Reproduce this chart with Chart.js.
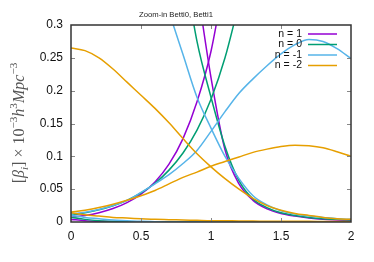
<!DOCTYPE html>
<html>
<head>
<meta charset="utf-8">
<script src="https://cdn.jsdelivr.net/npm/chart.js@4.4.0/dist/chart.umd.min.js"></script>
<style>
  html, body { margin: 0; padding: 0; background: #fff; }
  #wrap { width: 374px; height: 262px; }
</style>
</head>
<body>
<div id="wrap"><canvas id="c"></canvas></div>
<script>
// sample positions along x (0 .. 2, step 0.1)
const xs = [0, 0.1, 0.2, 0.3, 0.4, 0.5, 0.6, 0.7, 0.8, 0.9, 1.0,
            1.1, 1.2, 1.3, 1.4, 1.5, 1.6, 1.7, 1.8, 1.9, 2.0];

// n = 1
const rise1 = [0.007, 0.0099, 0.0142, 0.0205, 0.0295, 0.0425, 0.061, 0.088, 0.127, 0.183, 0.26, 0.375];
const fall1 = [null, null, null, null, null, null, null, null, null,
               0.36, 0.22, 0.11, 0.058, 0.033, 0.020, 0.013, 0.009, 0.006, 0.004, 0.003, 0.002];
const low1  = [0.004, 0.002, 0.001, 0.0005, 0, 0, 0, 0, 0, 0, 0, 0, 0, 0, 0, 0, 0, 0, 0, 0, 0];

// n = 0
const rise0 = [0.0104, 0.0139, 0.0186, 0.0248, 0.033, 0.0442, 0.059, 0.079, 0.105, 0.14, 0.187, 0.25, 0.333];
const fall0 = [null, null, null, null, null, null, null, null,
               0.40, 0.275, 0.19, 0.115, 0.063, 0.035, 0.022, 0.014, 0.010, 0.007, 0.005, 0.004, 0.003];
const low0  = [0.007, 0.004, 0.002, 0.001, 0.0005, 0, 0, 0, 0, 0, 0, 0, 0, 0, 0, 0, 0, 0, 0, 0, 0];

// n = -1
const riseM1 = [0.012, 0.015, 0.019, 0.025, 0.033, 0.045, 0.058, 0.072, 0.089, 0.109, 0.138,
                0.168, 0.196, 0.218, 0.238, 0.256, 0.270, 0.278, 0.275, 0.264, 0.249];
const fallM1 = [null, null, null, null, null, null, null,
                0.32, 0.255, 0.19, 0.143, 0.1, 0.066, 0.04, 0.026, 0.017, 0.012, 0.009, 0.007, 0.005, 0.004];
const lowM1  = [0.010, 0.007, 0.005, 0.003, 0.002, 0.001, 0.0005, 0, 0, 0, 0, 0, 0, 0, 0, 0, 0, 0, 0, 0, 0];

// n = -2
const riseM2 = [0.015, 0.018, 0.022, 0.027, 0.033, 0.040, 0.048, 0.058, 0.068, 0.076, 0.085,
                0.092, 0.099, 0.106, 0.111, 0.115, 0.117, 0.116, 0.113, 0.107, 0.100];
const fallM2 = [0.265, 0.261, 0.250, 0.233, 0.213, 0.193, 0.173, 0.151, 0.127, 0.104, 0.084,
                0.066, 0.050, 0.036, 0.025, 0.018, 0.013, 0.010, 0.007, 0.005, 0.004];
const lowM2  = [0.014, 0.011, 0.009, 0.007, 0.006, 0.005, 0.004, 0.0035, 0.003, 0.0025, 0.002,
                0.002, 0.0015, 0.0015, 0.001, 0.001, 0.001, 0.001, 0.0008, 0.0007, 0.0005];

const legendLabels = ['n = 1', 'n = 0', 'n = -1', 'n = -2'];
const colors = ['#9400d3', '#009e73', '#56b4e9', '#e69f00'];
const curves = [[rise1, fall1, low1], [rise0, fall0, low0], [riseM1, fallM1, lowM1], [riseM2, fallM2, lowM2]];
const xTicks = [0, 0.5, 1, 1.5, 2];
const yTicks = [0, 0.05, 0.1, 0.15, 0.2, 0.25, 0.3];

const pts = (ys) => xs.map((x, i) => ys[i] == null ? null : {x, y: ys[i]}).filter(p => p);
const fmt = (v) => String(+v.toFixed(2));

// last series drawn on top -> push in reverse (chart.js draws index 0 last)
const datasets = [];
for (let s = curves.length - 1; s >= 0; s--) {
  for (const ys of curves[s]) {
    datasets.push({
      data: pts(ys),
      borderColor: colors[s],
      borderWidth: 1.5,
      pointRadius: 0,
      fill: false,
      cubicInterpolationMode: 'monotone'
    });
  }
}

const decor = {
  id: 'decor',
  afterDatasetsDraw(chart) {
    const {ctx, chartArea: a, scales: {x, y}} = chart;
    ctx.save();
    // inward ticks, mirrored
    ctx.strokeStyle = '#888';
    ctx.lineWidth = 1;
    ctx.beginPath();
    for (const v of xTicks.slice(1, -1)) {
      const px = Math.round(x.getPixelForValue(v)) + 0.5;
      ctx.moveTo(px, a.bottom); ctx.lineTo(px, a.bottom - 4);
      ctx.moveTo(px, a.top); ctx.lineTo(px, a.top + 4);
    }
    for (const v of yTicks.slice(1, -1)) {
      const py = Math.round(y.getPixelForValue(v)) + 0.5;
      ctx.moveTo(a.left, py); ctx.lineTo(a.left + 4, py);
      ctx.moveTo(a.right, py); ctx.lineTo(a.right - 4, py);
    }
    ctx.stroke();
    // frame
    ctx.strokeStyle = '#333';
    ctx.lineWidth = 1.5;
    ctx.strokeRect(a.left, a.top, a.right - a.left, a.bottom - a.top);

    // legend
    ctx.font = '10.5px "Liberation Sans"';
    ctx.textAlign = 'right';
    ctx.textBaseline = 'middle';
    legendLabels.forEach((lab, i) => {
      const ry = 34 + i * 10.5;
      ctx.fillStyle = '#111';
      ctx.fillText(lab, 302, ry);
      ctx.strokeStyle = colors[i];
      ctx.lineWidth = 1.5;
      ctx.beginPath();
      ctx.moveTo(308, ry); ctx.lineTo(337, ry);
      ctx.stroke();
    });

    // title
    ctx.font = '7.7px "Liberation Sans"';
    ctx.textAlign = 'center';
    ctx.fillStyle = '#222';
    ctx.fillText('Zoom-in Betti0, Betti1', 176, 15);

    // y axis label, rotated, with sub/superscripts
    const fs = 16;
    const parts = [
      {t: '[', it: false}, {t: 'β', it: true}, {t: 'i', it: true, off: 0.25},
      {t: ']', it: false}, {t: ' × 10', it: false}, {t: '−3', it: false, off: -0.45},
      {t: 'h', it: true}, {t: '3', it: false, off: -0.45},
      {t: 'Mpc', it: true}, {t: '−3', it: false, off: -0.45}
    ];
    const fontOf = p => (p.it ? 'italic ' : '') + (p.off ? fs * 0.7 : fs) + 'px "Liberation Serif"';
    let total = 0;
    for (const p of parts) { ctx.font = fontOf(p); total += ctx.measureText(p.t).width; }
    ctx.translate(24, 123);
    ctx.rotate(-Math.PI / 2);
    ctx.textAlign = 'left';
    ctx.textBaseline = 'alphabetic';
    ctx.fillStyle = '#555';
    let cx = -total / 2;
    for (const p of parts) {
      ctx.font = fontOf(p);
      ctx.fillText(p.t, cx, (p.off || 0) * fs);
      cx += ctx.measureText(p.t).width;
    }
    ctx.restore();
  }
};

new Chart(document.getElementById('c'), {
  type: 'line',
  data: {datasets},
  options: {
    animation: false,
    responsive: true,
    maintainAspectRatio: false,
    layout: {padding: {top: 25, right: 23, left: 0, bottom: 0}},
    plugins: {legend: {display: false}, title: {display: false}, tooltip: {enabled: false}},
    scales: {
      x: {
        type: 'linear',
        min: 0, max: 2,
        grid: {display: false, drawTicks: false},
        border: {display: false},
        afterFit: (s) => { s.height = 40; },
        ticks: {stepSize: 0.5, padding: 7, color: '#111', callback: fmt,
                font: {family: 'Liberation Sans', size: 12}}
      },
      y: {
        min: 0, max: 0.3,
        grid: {display: false, drawTicks: false},
        border: {display: false},
        afterFit: (s) => { s.width = 71; },
        ticks: {stepSize: 0.05, padding: 8, color: '#111', callback: fmt,
                font: {family: 'Liberation Sans', size: 12}}
      }
    }
  },
  plugins: [decor]
});
</script>
</body>
</html>
